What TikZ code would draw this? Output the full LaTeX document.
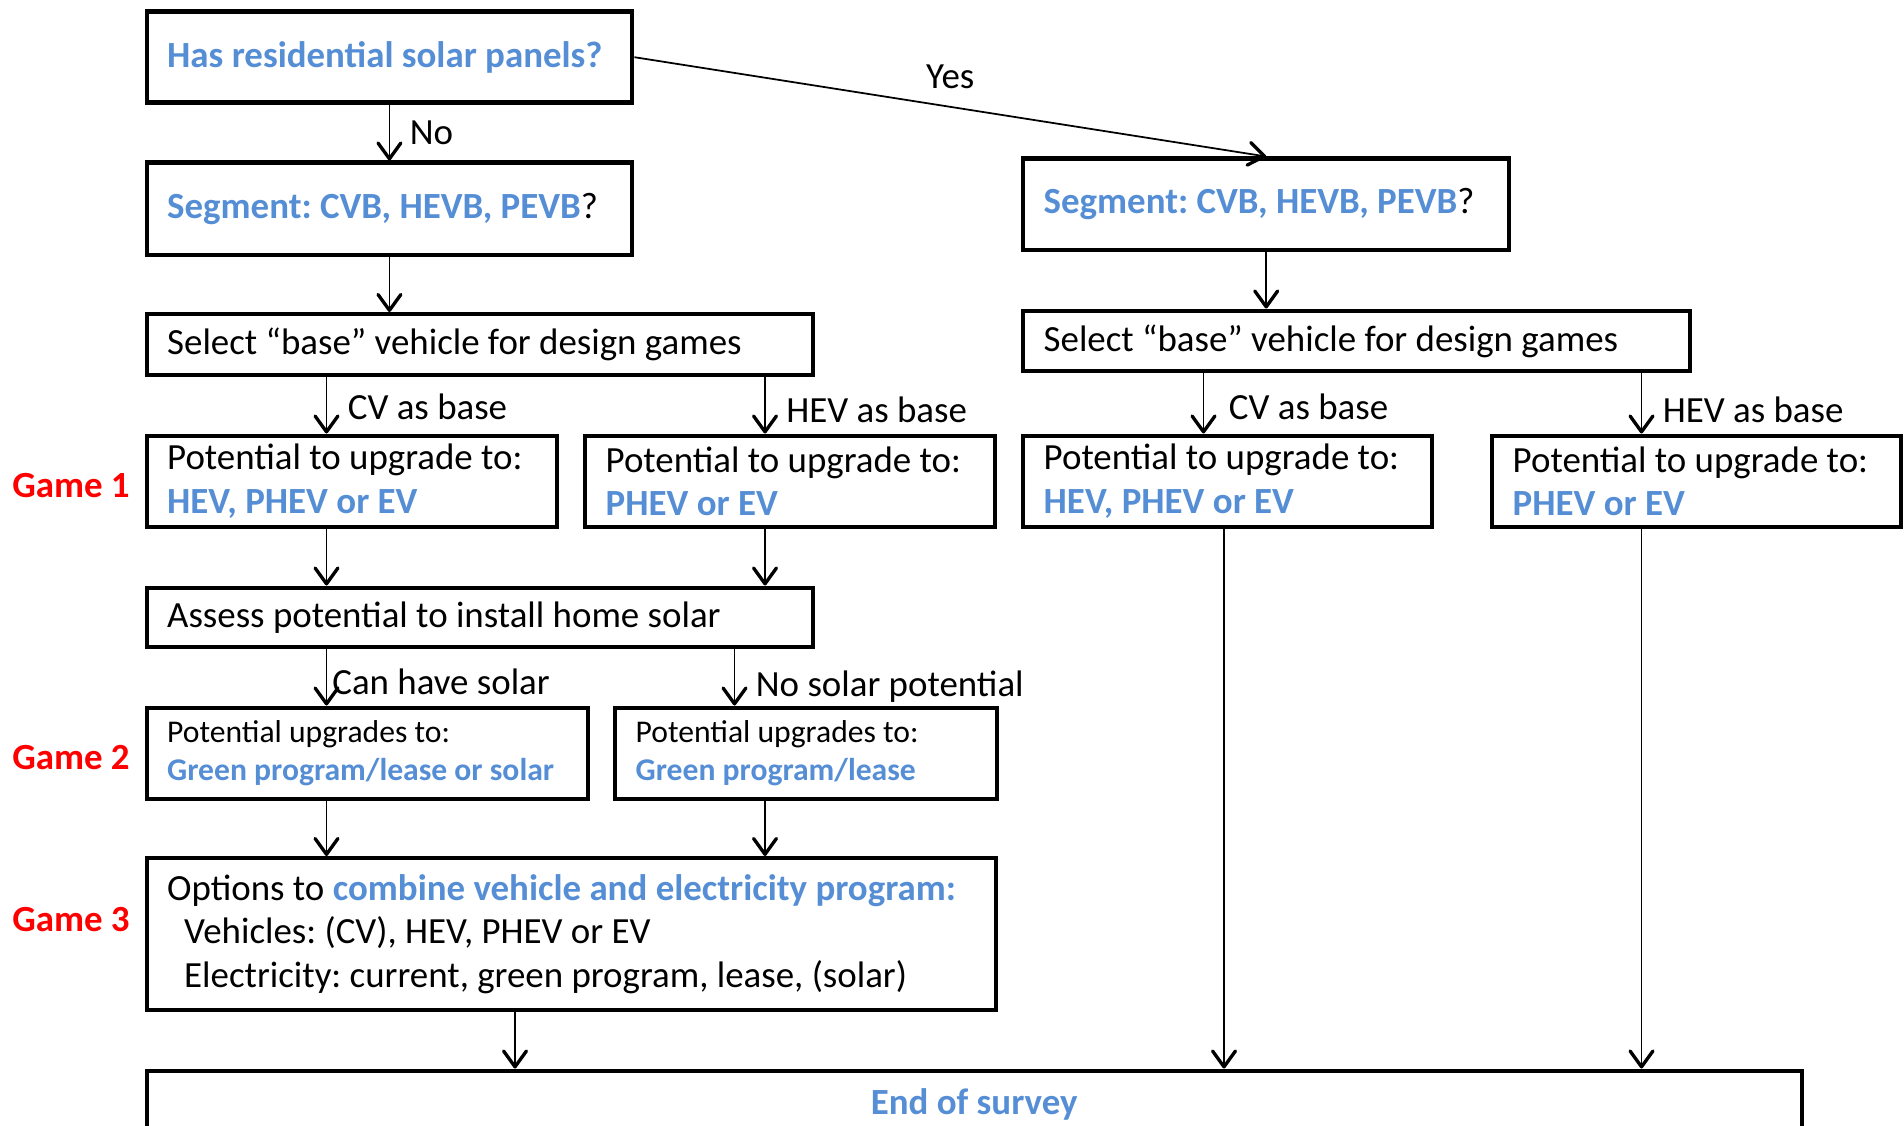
\documentclass[tikz,border=0pt]{standalone}
\usepackage{fontspec}
\setmainfont{Carlito}
\usetikzlibrary{positioning,arrows.meta}

\definecolor{surveyblue}{HTML}{558ED5}
\definecolor{gamered}{HTML}{FF0000}
\newcommand{\hl}[1]{\textcolor{surveyblue}{\textbf{#1}}}

\begin{document}
\frenchspacing
\begin{tikzpicture}[
    box/.style={draw, line width=2.5pt, anchor=north west, inner xsep=0.41cm, inner ysep=0pt, align=flush left, font=\fontsize{21}{24.6}\selectfont},
    smallbox/.style={box, font=\fontsize{18}{21.3}\selectfont},
    flow/.style={line width=1pt, -{Straight Barb[length=9pt,width=13pt,line width=1.9pt,round]}},
    lbl/.style={inner sep=0pt, font=\fontsize{21}{24.2}\selectfont},
    game/.style={inner sep=0pt, text=gamered, font=\fontsize{21}{24.2}\selectfont\bfseries}
]
    \useasboundingbox (0,0) rectangle (38.08,-22.52);

    % Nodes (Boxes), left branch
    \node[box, minimum width=9.71cm, minimum height=1.82cm, text width=8.89cm] (has_solar) at (2.89,-0.19) {\hl{Has residential solar panels?}};
    \node[box, minimum width=9.71cm, minimum height=1.85cm, text width=8.89cm] (seg_l) at (2.89,-3.21) {\hl{Segment: CVB, HEVB, PEVB}?};
    \node[box, minimum width=13.33cm, minimum height=1.22cm, text width=12.51cm] (sel_l) at (2.89,-6.24) {Select “base” vehicle for design games};
    \node[box, minimum width=8.21cm, minimum height=1.82cm, text width=7.39cm] (g1_cv) at (2.89,-8.67) {Potential to upgrade to:\\ \hl{HEV, PHEV or EV}};
    \node[box, minimum width=8.20cm, minimum height=1.82cm, text width=7.38cm] (g1_hev) at (11.66,-8.67) {Potential to upgrade to:\\ \hl{PHEV or EV}};
    \node[box, minimum width=13.33cm, minimum height=1.19cm, text width=12.51cm] (assess) at (2.89,-11.71) {Assess potential to install home solar};
    \node[smallbox, minimum width=8.82cm, minimum height=1.82cm, text width=8.00cm] (g2_solar) at (2.89,-14.11) {Potential upgrades to:\\ \hl{Green program/lease or solar}};
    \node[smallbox, minimum width=7.63cm, minimum height=1.82cm, text width=6.81cm] (g2_nosolar) at (12.26,-14.11) {Potential upgrades to:\\ \hl{Green program/lease}};
    \node[box, minimum width=16.98cm, minimum height=3.04cm, text width=16.16cm, font=\fontsize{21}{24.8}\selectfont] (options) at (2.89,-17.12) {Options to \hl{combine vehicle and electricity program:}\\
        \hspace*{0.34cm}Vehicles: (CV), HEV, PHEV or EV\\
        \hspace*{0.34cm}Electricity: current, green program, lease, (solar)};

    % Nodes (Boxes), right branch
    \node[box, minimum width=9.72cm, minimum height=1.82cm, text width=8.90cm] (seg_r) at (20.42,-3.13) {\hl{Segment: CVB, HEVB, PEVB}?};
    \node[box, minimum width=13.34cm, minimum height=1.21cm, text width=12.52cm] (sel_r) at (20.42,-6.17) {Select “base” vehicle for design games};
    \node[box, minimum width=8.18cm, minimum height=1.82cm, text width=7.36cm] (g1r_cv) at (20.42,-8.67) {Potential to upgrade to:\\ \hl{HEV, PHEV or EV}};
    \node[box, minimum width=8.18cm, minimum height=1.82cm, text width=7.36cm] (g1r_hev) at (29.80,-8.67) {Potential to upgrade to:\\ \hl{PHEV or EV}};

    \node[box, minimum width=33.10cm, minimum height=1.36cm, text width=32.28cm, align=flush center] (end) at (2.89,-21.37) {\hl{End of survey}};

    % Game labels
    \node[game, left=0.29cm of g1_cv, yshift=-0.08cm] (game1) {Game 1};
    \node[game, left=0.29cm of g2_solar, yshift=-0.08cm] (game2) {Game 2};
    \node[game, left=0.29cm of options, yshift=0.3cm] (game3) {Game 3};

    % Columns of the off-centre connectors
    \coordinate (col_a) at ([xshift=3.64cm]g1_cv.north west);
    \coordinate (col_b) at ([xshift=3.64cm]g1_hev.north west);
    \coordinate (col_c) at ([xshift=2.43cm]g2_nosolar.north west);
    \coordinate (col_d) at ([xshift=7.41cm]options.south west);
    \coordinate (col_e) at ([xshift=3.65cm]g1r_cv.north west);
    \coordinate (col_f) at ([xshift=3.03cm]g1r_hev.north west);
    \coordinate (col_g) at ([xshift=4.06cm]g1r_cv.south west);

    % Edges
    \draw[flow] (has_solar.south) -- (seg_l.north) node[lbl, midway, right=0.39cm] {No};
    \draw[flow] (has_solar.east) -- (seg_r.north) node[lbl, midway, above=0.35cm] {Yes};

    % left branch
    \draw[flow] (seg_l.south) -- (seg_l.south |- sel_l.north);
    \draw[flow] (col_a |- sel_l.south) -- (col_a) node[lbl, pos=0.52, right=0.41cm] {CV as base};
    \draw[flow] (col_b |- sel_l.south) -- (col_b) node[lbl, pos=0.58, right=0.41cm] {HEV as base};
    \draw[flow] (col_a |- g1_cv.south) -- (col_a |- assess.north);
    \draw[flow] (col_b |- g1_hev.south) -- (col_b |- assess.north);
    \draw[flow] (col_a |- assess.south) -- (col_a |- g2_solar.north) node[lbl, pos=0.58, right=0.1cm] {Can have solar};
    \draw[flow] (col_c |- assess.south) -- (col_c) node[lbl, pos=0.66, right=0.41cm] {No solar potential};
    \draw[flow] (col_a |- g2_solar.south) -- (col_a |- options.north);
    \draw[flow] (col_b |- g2_nosolar.south) -- (col_b |- options.north);
    \draw[flow] (col_d) -- (col_d |- end.north);

    % right branch
    \draw[flow] (seg_r.south) -- (seg_r.south |- sel_r.north);
    \draw[flow] (col_e |- sel_r.south) -- (col_e) node[lbl, pos=0.55, right=0.49cm] {CV as base};
    \draw[flow] (col_f |- sel_r.south) -- (col_f) node[lbl, pos=0.6, right=0.41cm] {HEV as base};
    \draw[flow] (col_g) -- (col_g |- end.north);
    \draw[flow] (col_f |- g1r_hev.south) -- (col_f |- end.north);
\end{tikzpicture}
\end{document}
